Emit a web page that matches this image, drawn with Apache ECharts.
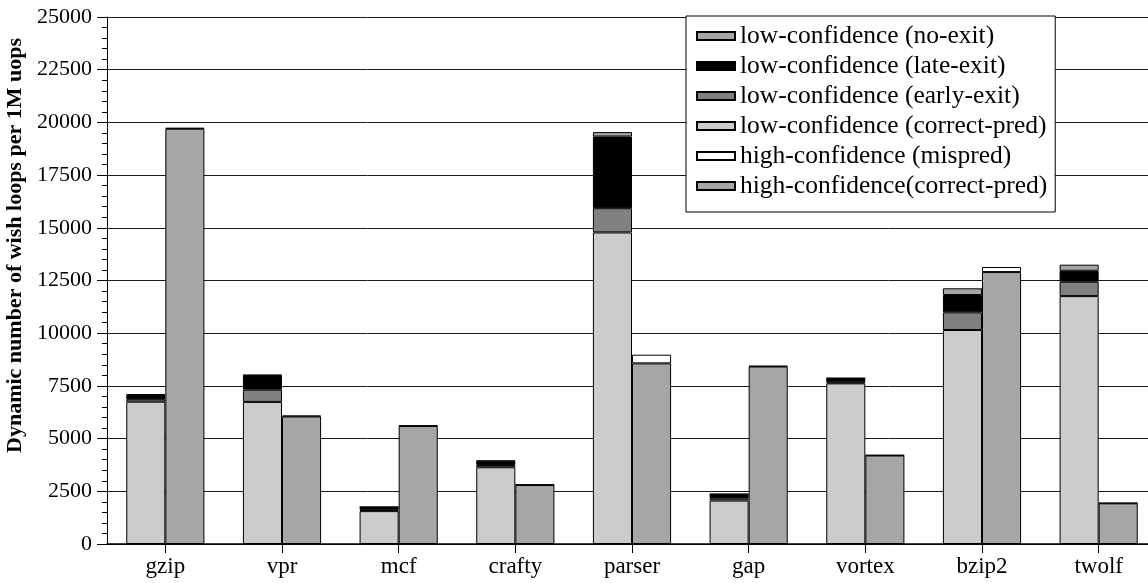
<!DOCTYPE html>
<html>
<head>
<meta charset="utf-8">
<script src="https://cdn.jsdelivr.net/npm/echarts@6/dist/echarts.min.js"></script>
<style>
  html, body { margin: 0; padding: 0; background: #ffffff; }
  #chart { width: 1148px; height: 583px; }
</style>
</head>
<body>
<div id="chart"></div>
<script>
// Benchmarks on the x axis
const categories = ['gzip', 'vpr', 'mcf', 'crafty', 'parser', 'gap', 'vortex', 'bzip2', 'twolf'];

// Low-confidence wish loops, stacked in the left bar of each pair
const lowCorrectPred = [6750, 6740, 1560, 3640, 14780, 2060, 7620, 10150, 11760];
const lowEarlyExit   = [120, 580, 60, 110, 1150, 110, 50, 840, 680];
const lowLateExit    = [200, 680, 130, 180, 3400, 190, 190, 820, 520];
const lowNoExit      = [40, 20, 10, 20, 210, 10, 10, 320, 290];

// High-confidence wish loops, stacked in the right bar of each pair
const highCorrectPred = [19700, 6050, 5600, 2800, 8570, 8420, 4200, 12900, 1930];
const highMispred     = [40, 40, 20, 20, 410, 30, 20, 240, 20];

const FONT = '"Liberation Serif", "Times New Roman", serif';

function bar(name, stack, data, color) {
  return {
    name: name,
    type: 'bar',
    stack: stack,
    data: data,
    barGap: '0%',
    barCategoryGap: '33%',
    itemStyle: { color: color, borderColor: '#000000', borderWidth: 1 },
    emphasis: { disabled: true },
    animation: false
  };
}

const chart = echarts.init(document.getElementById('chart'), null, { renderer: 'canvas' });

chart.setOption({
  backgroundColor: '#ffffff',
  animation: false,
  grid: { left: 107, top: 17, bottom: 39, right: -9, containLabel: false, outerBoundsMode: 'none' },
  legend: {
    orient: 'vertical',
    left: 686,
    top: 16,
    padding: [7, 8, 13, 10],
    itemGap: 4,
    itemWidth: 38,
    itemHeight: 8,
    icon: 'rect',
    backgroundColor: '#ffffff',
    borderColor: '#000000',
    borderWidth: 1,
    borderRadius: 0,
    textStyle: { fontFamily: FONT, fontSize: 25.5, color: '#000000', lineHeight: 26 },
    data: [
      'low-confidence (no-exit)',
      'low-confidence (late-exit)',
      'low-confidence (early-exit)',
      'low-confidence (correct-pred)',
      'high-confidence (mispred)',
      'high-confidence(correct-pred)'
    ]
  },
  xAxis: {
    type: 'category',
    data: categories,
    axisLine: { lineStyle: { color: '#000000', width: 1.5 } },
    axisTick: { show: true, alignWithLabel: true, length: 9, lineStyle: { color: '#000000' } },
    axisLabel: { fontFamily: FONT, fontSize: 23, color: '#000000', margin: 11 },
    splitLine: { show: false }
  },
  yAxis: {
    type: 'value',
    min: 0,
    max: 25000,
    interval: 2500,
    name: 'Dynamic number of wish loops per 1M uops',
    nameLocation: 'middle',
    nameGap: 72,
    nameTextStyle: {
      fontFamily: FONT, fontSize: 22, fontWeight: 'bold', color: '#000000',
      padding: [0, 0, 0, 70]
    },
    axisLine: { show: true, lineStyle: { color: '#000000', width: 1 } },
    axisTick: { show: true, length: 10, lineStyle: { color: '#000000' } },
    minorTick: { show: true, splitNumber: 5, length: 5, lineStyle: { color: '#000000' } },
    axisLabel: {
      fontFamily: FONT, fontSize: 22, color: '#000000', margin: 15,
      formatter: function (v) { return String(v); }
    },
    splitLine: { show: true, lineStyle: { color: '#1a1a1a', width: 1 } }
  },
  series: [
    bar('low-confidence (correct-pred)', 'low', lowCorrectPred, '#cccccc'),
    bar('low-confidence (early-exit)', 'low', lowEarlyExit, '#808080'),
    bar('low-confidence (late-exit)', 'low', lowLateExit, '#000000'),
    bar('low-confidence (no-exit)', 'low', lowNoExit, '#a6a6a6'),
    bar('high-confidence(correct-pred)', 'high', highCorrectPred, '#a6a6a6'),
    bar('high-confidence (mispred)', 'high', highMispred, '#ffffff')
  ]
});
</script>
</body>
</html>
